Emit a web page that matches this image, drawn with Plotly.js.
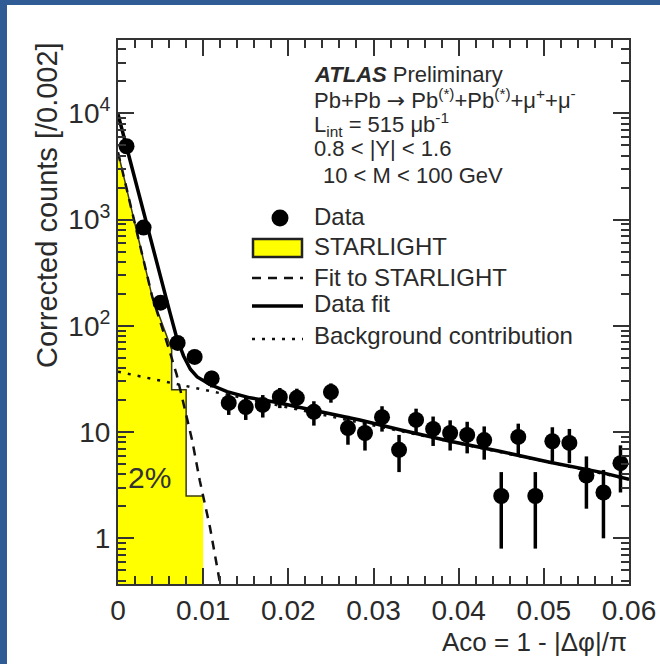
<!DOCTYPE html>
<html><head><meta charset="utf-8">
<script src="https://cdn.plot.ly/plotly-3.0.1.min.js"></script>
<style>
html,body{margin:0;padding:0;background:#305c96;width:660px;height:664px;overflow:hidden}
#chart{position:absolute;left:7px;top:5px;width:653px;height:659px;background:#fff}
</style></head><body><div id="chart"></div>
<script>
// ---------- data ----------
const binCenters = [0.001,0.003,0.005,0.007,0.009,0.011,0.013,0.015,0.017,0.019,
                    0.021,0.023,0.025,0.027,0.029,0.031,0.033,0.035,0.037,0.039,
                    0.041,0.043,0.045,0.047,0.049,0.051,0.053,0.055,0.057,0.059];
const dataCounts = [4900,840,165,69,51,32,18.8,17.2,18,21.4,
                    21,15.5,23.8,10.9,9.8,13.8,6.8,13,10.7,9.8,
                    9.4,8.4,2.5,9.0,2.5,8.2,7.9,3.9,2.7,5.1];
const dataErrors = [70,30,13,8.5,7,5.7,4.3,4.2,4.3,4.6,
                    4.6,4,4.9,3.3,3.1,3.7,2.6,3.6,3.3,3.1,
                    3.1,2.9,1.7,3,1.7,2.9,2.8,2.0,1.7,2.4];
// STARLIGHT histogram outline (edge, content)
const starlightX = [0, 0.002, 0.004, 0.0063, 0.0063, 0.008, 0.008, 0.010];
const starlightY = [4300, 900, 190, 60, 25, 25, 2.5, 2.5];
// Fit to STARLIGHT
const starFitX = [0, 0.002, 0.004, 0.006, 0.0069, 0.0087, 0.0096, 0.0108, 0.012, 0.0126];
const starFitY = [4300, 900, 190, 60, 34.5, 8.4, 3.5, 1.27, 0.345, 0.2];
// Data fit
const dataFitX = [0,0.0014,0.0032,0.0049,0.0061,0.0069,0.0077,0.0085,0.0093,0.0108,
                  0.0128,0.0155,0.0187,0.0214,0.0253,0.0284,0.0331,0.0390,0.0448,0.0507,0.0566,0.06];
const dataFitY = [9800,3600,1050,300,133,77,52,39,33,28,
                  24,21,19,17,14.5,13,10.5,8.2,6.6,5.2,4.2,3.6];
// Background contribution
const bkgX = [0, 0.06];
const bkgY = [37, 3.6];
// ticks
const xTickVals = [0,0.01,0.02,0.03,0.04,0.05,0.06];
const xTickText = ['0','0.01','0.02','0.03','0.04','0.05','0.06'];
const yTickVals = [1,10,100,1000,10000];
const yTickText = ['1','10','10<sup>2</sup>','10<sup>3</sup>','10<sup>4</sup>'];
// texts
const legendLabels = ['Data','STARLIGHT','Fit to STARLIGHT','Data fit','Background contribution'];
const infoLines = ['<b><i>ATLAS</i></b> Preliminary',
  'Pb+Pb <span style="font-family:DejaVu Sans">\u2192</span> Pb<sup>(*)</sup>+Pb<sup>(*)</sup>+\u03bc<sup>+</sup>+\u03bc<sup>-</sup>',
  'L<sub>int</sub> = 515 \u03bcb<sup>-1</sup>',
  '0.8 &lt; |Y| &lt; 1.6',
  '10 &lt; M &lt; 100 GeV'];
const xTitle = 'Aco = 1 - |\u0394\u03c6|/\u03c0';
const yTitle = 'Corrected counts [/0.002]';
const fractionLabel = '2%';

// ---------- layout helpers (page pixel -> paper) ----------
const PL = 118, PR = 629, PT = 40, PB = 584;
const px = p => (p - PL) / (PR - PL);
const py = p => (PB - p) / (PB - PT);
const FONT = 'Liberation Sans, Arial, Helvetica, sans-serif';
const INK = '#2a2a2a';

const minorY = [];
for (let k = -1; k <= 4; k++) for (let m = 2; m <= 9; m++) minorY.push(m * Math.pow(10, k));

const traces = [
  {x: starlightX, y: starlightY, mode: 'lines', fill: 'tozeroy', fillcolor: '#ffff00',
   line: {color: '#3c3c10', width: 1.5}, hoverinfo: 'skip', showlegend: false},
  {x: bkgX, y: bkgY, mode: 'lines', line: {color: '#111', width: 2.5, dash: '3px,7px'}, showlegend: false},
  {x: starFitX, y: starFitY, mode: 'lines', line: {color: '#111', width: 2.5, dash: '9px,7px'}, showlegend: false},
  {x: dataFitX, y: dataFitY, mode: 'lines', line: {color: '#000', width: 3.5}, showlegend: false},
  {x: binCenters, y: dataCounts, mode: 'markers', marker: {color: '#000', size: 16},
   error_y: {type: 'data', array: dataErrors, visible: true, thickness: 3.5, width: 0, color: '#000'},
   showlegend: false}
];

const annotations = [];
const infoY = [74, 99, 124, 149, 175];
const infoX = [313, 313, 313, 313, 322];
infoLines.forEach((t, i) => annotations.push({
  text: t, xref: 'paper', yref: 'paper', x: px(infoX[i]), y: py(infoY[i]),
  xanchor: 'left', yanchor: 'middle', showarrow: false, borderpad: 0,
  font: {family: FONT, size: 22, color: INK}
}));
const legY = [217, 246, 277, 303, 335];
legendLabels.forEach((t, i) => annotations.push({
  text: t, xref: 'paper', yref: 'paper', x: px(313), y: py(legY[i]),
  xanchor: 'left', yanchor: 'middle', showarrow: false, borderpad: 0,
  font: {family: FONT, size: 24, color: INK}
}));
annotations.push({text: xTitle, xref: 'paper', yref: 'paper', x: px(628), y: py(642),
  xanchor: 'right', yanchor: 'middle', showarrow: false, borderpad: 0,
  font: {family: FONT, size: 26, color: INK}});
annotations.push({text: yTitle, xref: 'paper', yref: 'paper', x: px(47), y: py(40), textangle: -90,
  xanchor: 'center', yanchor: 'top', showarrow: false, font: {family: FONT, size: 29, color: INK}});
annotations.push({text: fractionLabel, xref: 'x', yref: 'y', x: 0.0037, y: Math.log10(3.7),
  xanchor: 'center', yanchor: 'middle', showarrow: false, font: {family: FONT, size: 30, color: '#333'}});

const shapes = [
  {type: 'circle', xref: 'paper', yref: 'paper', xsizemode: 'pixel', ysizemode: 'pixel',
   xanchor: px(280), yanchor: py(218), x0: -8.5, x1: 8.5, y0: -8.5, y1: 8.5,
   fillcolor: '#000', line: {width: 0}},
  {type: 'rect', xref: 'paper', yref: 'paper', x0: px(253), x1: px(302), y0: py(257), y1: py(239),
   fillcolor: '#ffff00', line: {color: '#222', width: 2.5}},
  {type: 'line', xref: 'paper', yref: 'paper', x0: px(252), x1: px(303), y0: py(278), y1: py(278),
   line: {color: '#111', width: 2.5, dash: '9px,7px'}},
  {type: 'line', xref: 'paper', yref: 'paper', x0: px(252), x1: px(303), y0: py(306), y1: py(306),
   line: {color: '#000', width: 3.5}},
  {type: 'line', xref: 'paper', yref: 'paper', x0: px(252), x1: px(303), y0: py(339), y1: py(339),
   line: {color: '#111', width: 2.5, dash: '3px,7px'}}
];

const axisCommon = {
  showgrid: false, zeroline: false, showline: true, linecolor: '#333', linewidth: 2,
  mirror: 'allticks', ticks: 'inside', ticklen: 16, tickwidth: 2, tickcolor: '#333',
  tickfont: {family: FONT, size: 28, color: INK}
};

const layout = {
  width: 653, height: 659,
  margin: {l: 111, r: 31, t: 35, b: 80},
  paper_bgcolor: '#ffffff', plot_bgcolor: '#ffffff',
  showlegend: false,
  xaxis: Object.assign({}, axisCommon, {
    range: [0, 0.06], tickmode: 'array', tickvals: xTickVals, ticktext: xTickText,
    minor: {ticks: 'inside', dtick: 0.002, tick0: 0, ticklen: 8, tickwidth: 2, tickcolor: '#333', showgrid: false}
  }),
  yaxis: Object.assign({}, axisCommon, {
    type: 'log', range: [-0.43, 4.69], tickmode: 'array', tickvals: yTickVals, ticktext: yTickText,
    minor: {ticks: 'inside', tickmode: 'array', tickvals: minorY, ticklen: 8, tickwidth: 2, tickcolor: '#333', showgrid: false}
  }),
  annotations: annotations,
  shapes: shapes
};

Plotly.newPlot('chart', traces, layout, {staticPlot: true, displayModeBar: false});
</script></body></html>
